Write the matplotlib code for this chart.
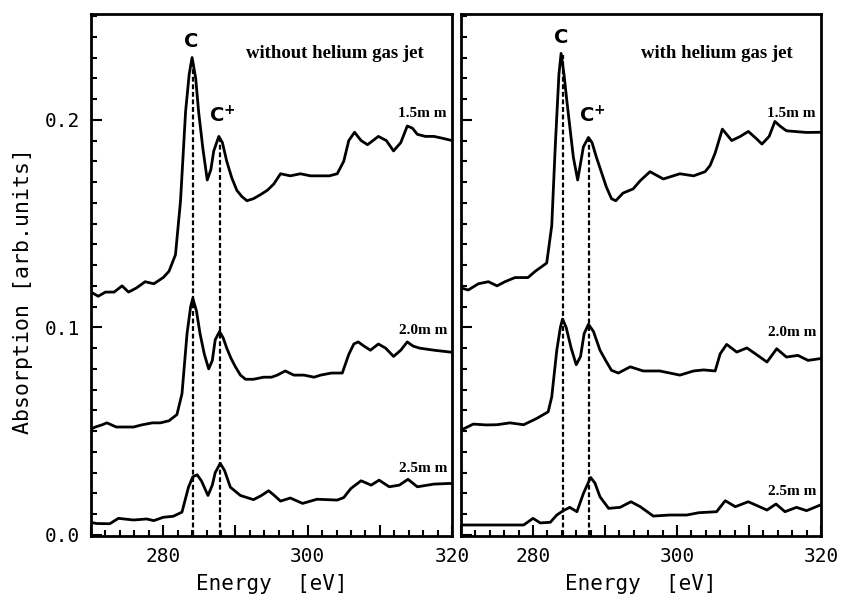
import matplotlib
matplotlib.use('Agg')
import matplotlib.pyplot as plt
from matplotlib.ticker import MultipleLocator, FixedLocator, FuncFormatter

# --- data: energy (eV), absorption (arb. units) ---
# without helium gas jet
wo_15_e = [270.0, 271.0, 272.0, 273.2, 274.3, 275.2, 276.3, 277.5, 278.7, 280.0, 280.8, 281.7, 282.4,
           283.1, 283.6, 284.0, 284.5, 284.9, 285.5, 286.1, 286.6, 287.0, 287.7, 288.2, 288.8, 289.5,
           290.2, 290.9, 291.6, 292.5, 293.5, 294.4, 295.3, 296.25, 297.6, 299.0, 300.4, 301.8, 303.0,
           304.1, 305.0, 305.7, 306.5, 307.4, 308.3, 309.8, 310.9, 311.9, 312.9, 313.8, 314.5, 315.2,
           316.3, 317.5, 318.8, 320.0]
wo_15_a = [0.117, 0.115, 0.117, 0.117, 0.120, 0.117, 0.119, 0.122, 0.121, 0.124, 0.127, 0.135, 0.161,
           0.204, 0.222, 0.230, 0.220, 0.204, 0.186, 0.171, 0.176, 0.185, 0.192, 0.189, 0.180, 0.172,
           0.166, 0.163, 0.161, 0.162, 0.164, 0.166, 0.169, 0.174, 0.173, 0.174, 0.173, 0.173, 0.173,
           0.174, 0.180, 0.190, 0.194, 0.190, 0.188, 0.192, 0.190, 0.185, 0.189, 0.197, 0.196, 0.193,
           0.192, 0.192, 0.191, 0.190]

wo_20_e = [270.0, 270.6, 271.5, 272.2, 273.5, 274.5, 275.9, 277.0, 278.5, 279.6, 280.8, 281.9, 282.6,
           283.3, 283.8, 284.1, 284.6, 285.1, 285.7, 286.3, 286.8, 287.2, 287.8, 288.3, 288.8, 289.4,
           290.0, 290.7, 291.4, 292.5, 293.9, 295.0, 295.8, 296.9, 298.1, 299.5, 300.9, 301.8, 303.3,
           304.8, 305.7, 306.4, 307.0, 307.8, 308.7, 309.8, 310.8, 311.9, 312.9, 313.8, 314.6, 315.5,
           317.5, 320.0]
wo_20_a = [0.051, 0.052, 0.053, 0.054, 0.052, 0.052, 0.052, 0.053, 0.054, 0.054, 0.055, 0.058, 0.068,
           0.097, 0.110, 0.114, 0.108, 0.097, 0.087, 0.080, 0.084, 0.094, 0.098, 0.095, 0.090, 0.085,
           0.081, 0.077, 0.075, 0.075, 0.076, 0.076, 0.077, 0.079, 0.077, 0.077, 0.076, 0.077, 0.078,
           0.078, 0.087, 0.092, 0.093, 0.091, 0.089, 0.092, 0.090, 0.086, 0.089, 0.093, 0.091, 0.090,
           0.089, 0.088]

wo_25_e = [270.0, 270.8, 272.6, 273.8, 275.9, 277.7, 278.7, 280.0, 281.4, 282.6, 283.5, 284.1, 284.7,
           285.3, 286.2, 286.8, 287.2, 287.9, 288.5, 289.3, 290.7, 292.5, 293.6, 294.6, 295.4, 296.25,
           297.6, 299.3, 301.3, 304.1, 305.0, 306.0, 307.4, 308.8, 309.9, 311.3, 312.7, 313.9, 315.2,
           317.5, 319.6, 320.0]
wo_25_a = [0.006, 0.0055, 0.0054, 0.008, 0.0072, 0.0077, 0.0069, 0.0085, 0.009, 0.011, 0.023, 0.028,
           0.029, 0.026, 0.019, 0.024, 0.030, 0.0345, 0.031, 0.023, 0.019, 0.017, 0.019, 0.0213, 0.019,
           0.0163, 0.0178, 0.0152, 0.0172, 0.0168, 0.018, 0.0224, 0.0261, 0.024, 0.0264, 0.0232, 0.024,
           0.0268, 0.0232, 0.0245, 0.0248, 0.0248]

# with helium gas jet
w_15_e = [270.0, 271.0, 272.4, 273.8, 275.0, 276.1, 277.5, 279.3, 280.3, 281.9, 282.6, 283.1, 283.6,
          283.9, 284.3, 284.7, 285.6, 286.2, 287.0, 287.7, 288.2, 288.8, 290.2, 290.9, 291.5, 292.5,
          293.9, 294.9, 296.25, 298.1, 300.4, 302.3, 303.9, 304.6, 305.3, 306.3, 307.6, 308.8, 309.9,
          311.0, 311.8, 312.8, 313.6, 314.3, 315.2, 318.0, 320.0]
w_15_a = [0.119, 0.118, 0.121, 0.122, 0.120, 0.122, 0.124, 0.124, 0.127, 0.131, 0.149, 0.188, 0.222,
          0.232, 0.222, 0.209, 0.182, 0.171, 0.187, 0.1915, 0.189, 0.182, 0.1675, 0.162, 0.161, 0.1647,
          0.1667, 0.1707, 0.175, 0.1715, 0.174, 0.173, 0.175, 0.178, 0.184, 0.1955, 0.190, 0.192, 0.1944,
          0.191, 0.1883, 0.192, 0.1992, 0.197, 0.1947, 0.1939, 0.194]

w_20_e = [270.0, 271.7, 273.5, 275.0, 276.8, 278.7, 280.5, 282.1, 282.6, 283.3, 283.8, 284.1, 284.6,
          285.3, 286.0, 286.6, 287.1, 287.7, 288.4, 289.3, 290.1, 290.9, 291.85, 293.5, 295.3, 297.6,
          300.4, 302.3, 303.7, 305.3, 306.0, 306.9, 308.3, 309.7, 311.0, 312.5, 313.85, 315.2, 316.8,
          318.2, 320.0]
w_20_a = [0.0505, 0.0534, 0.053, 0.0531, 0.054, 0.0531, 0.0561, 0.0593, 0.0665, 0.089, 0.100, 0.104,
          0.100, 0.090, 0.082, 0.086, 0.097, 0.1015, 0.098, 0.089, 0.084, 0.0793, 0.078, 0.081, 0.079,
          0.079, 0.077, 0.079, 0.0795, 0.079, 0.0873, 0.0918, 0.0881, 0.0901, 0.087, 0.0833, 0.0897,
          0.0857, 0.0865, 0.0841, 0.085]

w_25_e = [270.0, 273.6, 278.7, 280.0, 281.0, 282.4, 283.3, 284.2, 285.1, 286.1, 287.0, 288.0, 288.6,
          289.3, 290.5, 292.1, 293.6, 294.9, 296.7, 299.0, 301.35, 303.0, 305.5, 306.7, 308.1, 309.9,
          311.2, 312.5, 313.75, 315.0, 316.6, 318.0, 319.9]
w_25_a = [0.0048, 0.0048, 0.0048, 0.008, 0.0058, 0.0061, 0.0096, 0.0117, 0.0133, 0.0112, 0.020, 0.0277,
          0.025, 0.0184, 0.0128, 0.0133, 0.016, 0.0136, 0.0091, 0.0096, 0.0096, 0.0107, 0.0112, 0.0165,
          0.0136, 0.016, 0.0140, 0.012, 0.0149, 0.0112, 0.0133, 0.0117, 0.0144]

# peak positions (eV) and heights of the dashed markers
c_energy = 284.1
cplus_energy = 287.8
wo_marker_tops = [0.229, 0.191]
w_marker_tops = [0.231, 0.191]

distance_labels = ['1.5mm', '2.0mm', '2.5mm']
wo_label_y = [0.203, 0.0985, 0.032]
w_label_y = [0.203, 0.0976, 0.021]

mono = 'DejaVu Sans Mono'

fig = plt.figure(figsize=(8.41, 5.98), dpi=100)
ax1 = fig.add_axes([0.1082, 0.1037, 0.4293, 0.873])
ax2 = fig.add_axes([0.5482, 0.1037, 0.428, 0.873])

panels = [
    (ax1, [(wo_15_e, wo_15_a), (wo_20_e, wo_20_a), (wo_25_e, wo_25_a)],
     wo_marker_tops, wo_label_y, 'without helium gas jet', 303.8),
    (ax2, [(w_15_e, w_15_a), (w_20_e, w_20_a), (w_25_e, w_25_a)],
     w_marker_tops, w_label_y, 'with helium gas jet', 305.6),
]

for ax, curves, tops, label_y, title, title_x in panels:
    for x0, top in zip([c_energy, cplus_energy], tops):
        ax.plot([x0, x0], [0, top], color='black', lw=1.6, ls=(0, (2.2, 1.2)), zorder=2)
    for e, a in curves:
        ax.plot(e, a, color='black', lw=2.0, zorder=3)
    for txt, y in zip(distance_labels, label_y):
        ax.text(319.3, y, txt.replace('mm', 'm m'), ha='right', va='center',
                fontsize=11, fontweight='bold', family='Liberation Serif')
    ax.text(title_x, 0.232, title, ha='center', va='center', fontsize=13.5,
            fontweight='bold', family='Liberation Serif')
    ax.text(c_energy - 0.2, tops[0] + 0.004, 'C', ha='center', va='bottom',
            fontsize=14, fontweight='bold', family='DejaVu Sans')
    ax.text(cplus_energy + 0.4, tops[1] + 0.006, r'C$^{\mathbf{+}}$', ha='center', va='bottom',
            fontsize=14, fontweight='bold', family='DejaVu Sans')

    ax.set_xlim(270, 320)
    ax.set_ylim(-0.0005, 0.251)
    ax.xaxis.set_major_locator(FixedLocator([270, 280, 290, 300, 310, 320]))
    ax.xaxis.set_minor_locator(MultipleLocator(2))
    ax.xaxis.set_major_formatter(FuncFormatter(lambda v, p: '%d' % v if v in (280, 300, 320) else ''))
    ax.yaxis.set_major_locator(MultipleLocator(0.1))
    ax.yaxis.set_minor_locator(MultipleLocator(0.01))
    ax.yaxis.set_major_formatter(FuncFormatter(lambda v, p: '%.1f' % v))
    ax.tick_params(which='both', direction='in', top=False, right=False, width=1.5, labelsize=14)
    ax.tick_params(which='major', length=8, pad=8)
    ax.tick_params(which='minor', length=4)
    for lbl in ax.get_xticklabels() + ax.get_yticklabels():
        lbl.set_family(mono)
    for sp in ax.spines.values():
        sp.set_linewidth(2.0)
    ax.set_xlabel('Energy  [eV]', family=mono, fontsize=15, labelpad=6)

ax2.tick_params(labelleft=False)
ax1.set_ylabel('Absorption [arb.units]', family=mono, fontsize=15.5, labelpad=10)
ax1.yaxis.set_label_coords(-0.16, 0.47)

fig.savefig('out.png', dpi=100)
